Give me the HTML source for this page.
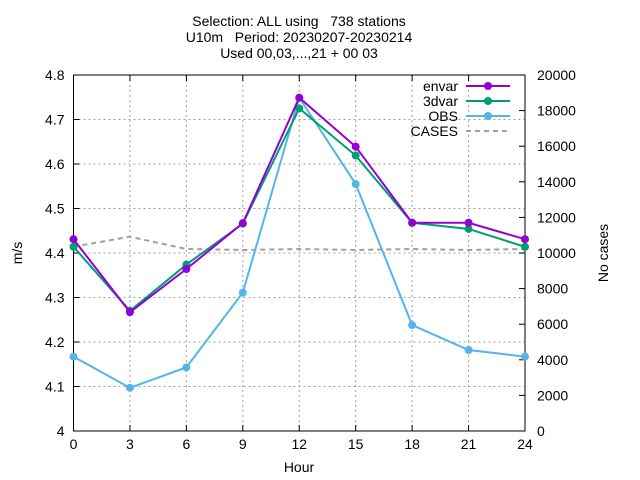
<!DOCTYPE html>
<html><head><meta charset="utf-8"><style>
body{margin:0;background:#fff}
svg{display:block;font-family:"Liberation Sans",sans-serif}
</style></head><body>
<svg id="c" width="640" height="480" xmlns="http://www.w3.org/2000/svg">
<g font-size="14" text-anchor="middle" fill="#000">
<text x="299" y="26" xml:space="preserve">Selection: ALL using   738 stations</text>
<text x="299" y="42" xml:space="preserve">U10m   Period: 20230207-20230214</text>
<text x="299" y="58">Used 00,03,...,21 + 00 03</text>
</g>
<text x="299" y="472" font-size="14" text-anchor="middle">Hour</text>
<text transform="translate(22,253) rotate(-90)" font-size="14" text-anchor="middle">m/s</text>
<text transform="translate(608,253) rotate(-90)" font-size="14" text-anchor="middle">No cases</text>
<g id="grid"></g><g id="axes"></g><g id="series"></g><g id="legend"></g>
</svg>
<script>
const hours=[0,3,6,9,12,15,18,21,24];
const envar=[4.431,4.267,4.364,4.467,4.749,4.639,4.468,4.468,4.431];
const dvar3=[4.414,4.270,4.374,4.466,4.725,4.619,4.468,4.454,4.414];
const obs=[4.167,4.097,4.143,4.311,4.749,4.555,4.238,4.182,4.167];
const cases=[10354,10916,10225,10170,10225,10170,10225,10170,10225];
const yTicks=["4","4.1","4.2","4.3","4.4","4.5","4.6","4.7","4.8"];
const y2Ticks=["0","2000","4000","6000","8000","10000","12000","14000","16000","18000","20000"];
const xTicks=["0","3","6","9","12","15","18","21","24"];
const L=73.5,R=525,T=75,B=431;
const X=h=>L+(h-0)/24*(R-L);
const Y=v=>B-(v-4)/0.8*(B-T);
const Y2=v=>B-v/20000*(B-T);
const NS="http://www.w3.org/2000/svg";
function mk(p,t,a){const e=document.createElementNS(NS,t);for(const k in a)e.setAttribute(k,a[k]);p.appendChild(e);return e;}
const grid=document.getElementById('grid'),axes=document.getElementById('axes');
xTicks.forEach(t=>{const x=X(+t);
 const g=mk(grid,'line',{x1:x,x2:x,y1:T,y2:B,stroke:'#a0a0a0','stroke-dasharray':'2,3','stroke-width':1});
 
 
 mk(axes,'line',{x1:x,x2:x,y1:B,y2:B-6,stroke:'#000'});
 mk(axes,'line',{x1:x,x2:x,y1:T,y2:T+6,stroke:'#000'});
 const tx=mk(axes,'text',{x:x,y:B+18,'font-size':14,'text-anchor':'middle'});tx.textContent=t;
 
 
});
yTicks.forEach(t=>{const y=Y(+t);
 const g=mk(grid,'line',{x1:L,x2:R,y1:y,y2:y,stroke:'#a0a0a0','stroke-dasharray':'2,3','stroke-width':1});
 
 
 mk(axes,'line',{x1:L,x2:L+6,y1:y,y2:y,stroke:'#000'});
 const tx=mk(axes,'text',{x:L-9,y:y+5,'font-size':14,'text-anchor':'end'});tx.textContent=t;
 
 
});
y2Ticks.forEach(t=>{const y=Y2(+t);
 mk(axes,'line',{x1:R,x2:R-6,y1:y,y2:y,stroke:'#000'});
 const tx=mk(axes,'text',{x:R+12,y:y+5,'font-size':14,'text-anchor':'start'});tx.textContent=t;
 
 
});
const fr=mk(axes,'rect',{x:L,y:T,width:R-L,height:B-T,fill:'none',stroke:'#000'});


const ser=document.getElementById('series');
const cl=mk(ser,'polyline',{points:hours.map((h,i)=>X(h)+','+Y2(cases[i])).join(' '),fill:'none',stroke:'#a0a0a0','stroke-width':2,'stroke-dasharray':'5,4'});


function series(vals,col,name){
 const pl=mk(ser,'polyline',{points:hours.map((h,i)=>X(h)+','+Y(vals[i])).join(' '),fill:'none',stroke:col,'stroke-width':2});
 
 
 hours.forEach((h,i)=>{const c=mk(ser,'circle',{cx:X(h),cy:Y(vals[i]),r:4,fill:col});
  
  });
}
series(obs,'#56b4e9','obs');
series(dvar3,'#009e73','3dvar');
series(envar,'#9400d3','envar');
const lg=document.getElementById('legend');


const items=[['envar','#9400d3',0],['3dvar','#009e73',0],['OBS','#56b4e9',0],['CASES','#a0a0a0',1]];
items.forEach((it,i)=>{const y=86+i*15;
 const t=mk(lg,'text',{x:458,y:y+5,'font-size':14,'text-anchor':'end'});t.textContent=it[0];
 
 
 if(it[2]){mk(lg,'line',{x1:466,x2:510,y1:y,y2:y,stroke:it[1],'stroke-width':2,'stroke-dasharray':'5,4'});}
 else{mk(lg,'line',{x1:466,x2:510,y1:y,y2:y,stroke:it[1],'stroke-width':2});mk(lg,'circle',{cx:488,cy:y,r:4,fill:it[1]});}
});
</script>
</body></html>
